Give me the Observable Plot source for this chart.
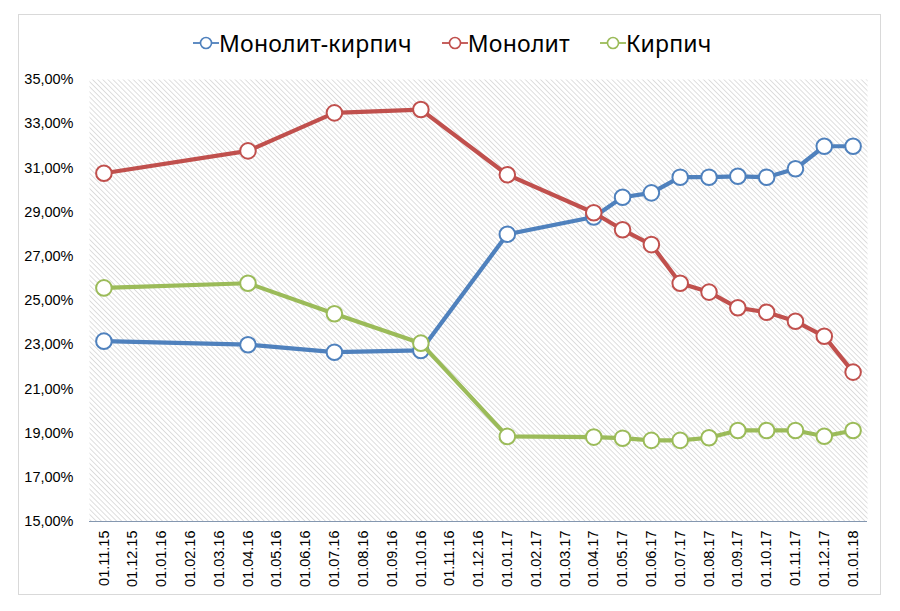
<!DOCTYPE html>
<html>
<head>
<meta charset="utf-8">
<script src="https://cdn.jsdelivr.net/npm/d3@7"></script>
<script src="https://cdn.jsdelivr.net/npm/@observablehq/plot@0.6"></script>
<style>
  html, body { margin: 0; padding: 0; background: #fff; }
  #frame { position: absolute; left: 18px; top: 14px; width: 863px; height: 581px; border: 1px solid #d9d9d9; box-sizing: border-box; }
  #legend { position: absolute; left: 193px; top: 25px; height: 36px; display: flex; align-items: center; font-family: "Noto Sans", sans-serif; font-size: 23px; letter-spacing: 0.2px; color: #000; white-space: nowrap; }
  .item { display: flex; align-items: center; margin-right: 30px; }
  .item svg { margin-right: 0px; }
  #chart { position: absolute; left: 0; top: 64px; }
</style>
</head>
<body>
<div id="frame"></div>
<div id="legend"></div>
<div id="chart"></div>
<script>
const labels = ["01.11.15","01.12.15","01.01.16","01.02.16","01.03.16","01.04.16","01.05.16","01.06.16","01.07.16","01.08.16","01.09.16","01.10.16","01.11.16","01.12.16","01.01.17","01.02.17","01.03.17","01.04.17","01.05.17","01.06.17","01.07.17","01.08.17","01.09.17","01.10.17","01.11.17","01.12.17","01.01.18"];
const seriesNames = ["Монолит-кирпич", "Монолит", "Кирпич"];
const seriesColors = ["#4F81BD", "#C0504D", "#9BBB59"];
const monolitKirpich = [23.16,null,null,null,null,23.00,null,null,22.66,null,null,22.74,null,null,28.00,null,null,28.78,29.67,29.87,30.58,30.58,30.62,30.58,30.96,31.98,31.98];
const monolit = [30.76,null,null,null,null,31.77,null,null,33.49,null,null,33.64,null,null,30.69,null,null,28.97,28.20,27.53,25.78,25.38,24.67,24.47,24.06,23.38,21.76];
const kirpich = [25.57,null,null,null,null,25.78,null,null,24.40,null,null,23.07,null,null,18.85,null,null,18.82,18.77,18.67,18.67,18.79,19.12,19.12,19.12,18.86,19.12];
const yTicks = [15,17,19,21,23,25,27,29,31,33,35];

const allSeries = [monolitKirpich, monolit, kirpich];
const rows = [];
allSeries.forEach((vals, s) => vals.forEach((v, i) => {
  if (v != null) rows.push({series: seriesNames[s], date: labels[i], value: v});
}));

// legend
const legend = document.getElementById("legend");
seriesNames.forEach((name, s) => {
  const item = document.createElement("div");
  item.className = "item";
  item.innerHTML = `<svg width="26" height="20"><line x1="0" x2="26" y1="10" y2="10" stroke="${seriesColors[s]}" stroke-width="1.8"/><circle cx="13" cy="10" r="5.5" fill="#fff" stroke="${seriesColors[s]}" stroke-width="1.6"/></svg><span>${name}</span>`;
  legend.appendChild(item);
});

const marks = [
  Plot.frame({fill: "url(#hatch)", stroke: "none"}),
  Plot.ruleY([15], {stroke: "#8497B0", strokeWidth: 1.2})
];
seriesNames.forEach((name, s) => {
  const d = rows.filter(r => r.series === name);
  marks.push(Plot.line(d, {x: "date", y: "value", stroke: seriesColors[s], strokeWidth: 4.2, strokeLinejoin: "round", strokeLinecap: "round"}));
  marks.push(Plot.dot(d, {x: "date", y: "value", r: 7.8, fill: "#fff", stroke: seriesColors[s], strokeWidth: 2}));
});

const chart = Plot.plot({
  width: 882,
  height: 530,
  marginLeft: 89,
  marginRight: 15,
  marginTop: 15,
  marginBottom: 73,
  style: {fontFamily: "'Liberation Sans', Arial, sans-serif", fontSize: "14.5px", color: "#000", background: "transparent", overflow: "visible"},
  x: {type: "point", domain: labels, padding: 0.5, round: false, tickRotate: -90, tickSize: 0, tickPadding: 9, label: null},
  y: {domain: [15, 35], ticks: yTicks, tickSize: 0, tickPadding: 16, label: null, tickFormat: d => d.toFixed(2).replace(".", ",") + "%"},
  marks
});

const svg = d3.select(chart);
const defs = svg.insert("defs", ":first-child");
const pat = defs.append("pattern").attr("id", "hatch").attr("patternUnits", "userSpaceOnUse")
  .attr("width", 3.6).attr("height", 3.6).attr("patternTransform", "rotate(-45)");
pat.append("rect").attr("width", 3.6).attr("height", 3.6).attr("fill", "#fff");
pat.append("line").attr("x1", 0).attr("x2", 0).attr("y1", 0).attr("y2", 3.6).attr("stroke", "#c9c9c9").attr("stroke-width", 1.2);

document.getElementById("chart").appendChild(chart);
</script>
</body>
</html>
